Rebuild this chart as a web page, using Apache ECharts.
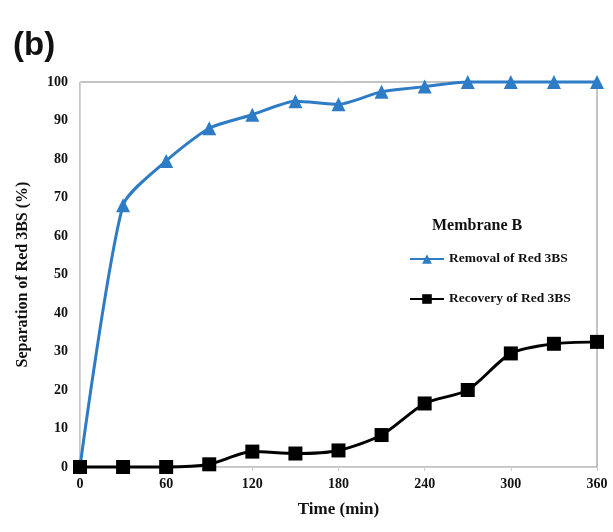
<!DOCTYPE html>
<html><head><meta charset="utf-8">
<script src="https://cdn.jsdelivr.net/npm/echarts@6/dist/echarts.min.js"></script>
<style>html,body{margin:0;padding:0;background:#fff}#c{width:613px;height:532px}</style>
</head><body><div id="c"></div>
<script>
const times = [0, 30, 60, 90, 120, 150, 180, 210, 240, 270, 300, 330, 360];
const removal = [0, 68, 79.5, 88, 91.5, 95, 94.2, 97.5, 98.8, 100, 100, 100, 100];
const recovery = [0, 0, 0, 0.7, 4, 3.5, 4.3, 8.3, 16.5, 20, 29.5, 32, 32.5];
const seriesNames = ['Removal of Red 3BS', 'Recovery of Red 3BS'];
const serif = '"Liberation Serif", "Times New Roman", serif';

const chart = echarts.init(document.getElementById('c'));
chart.setOption({
  animation: false,
  backgroundColor: '#fff',
  grid: { left: 80, right: 16, top: 82, bottom: 65, show: true, borderColor: '#8a8a8a', borderWidth: 1 },
  title: { text: '(b)', left: 8, top: 24, textStyle: { fontFamily: '"Liberation Sans", Arial, sans-serif', fontWeight: 'bold', fontSize: 33, color: '#111' } },
  graphic: [{ type: 'text', left: 432, top: 218, style: { text: 'Membrane B', fontFamily: serif, fontWeight: 'bold', fontSize: 16, fill: '#111' } }],
  legend: {
    orient: 'vertical', left: 404, top: 247, itemGap: 26, itemWidth: 34, itemHeight: 12,
    textStyle: { fontFamily: serif, fontWeight: 'bold', fontSize: 13.5, color: '#111' },
    data: seriesNames
  },
  xAxis: {
    type: 'value', min: 0, max: 360, interval: 60,
    name: 'Time (min)', nameLocation: 'middle', nameGap: 34,
    nameTextStyle: { fontFamily: serif, fontWeight: 'bold', fontSize: 17, color: '#111' },
    axisLine: { show: true, lineStyle: { color: '#cfcfcf' } },
    axisTick: { show: true, length: 4, lineStyle: { color: '#cfcfcf' } },
    axisLabel: { fontFamily: serif, fontWeight: 'bold', fontSize: 14, color: '#111', margin: 10 },
    splitLine: { show: false }
  },
  yAxis: {
    type: 'value', min: 0, max: 100, interval: 10,
    name: 'Separation of Red 3BS (%)', nameLocation: 'middle', nameGap: 49,
    nameTextStyle: { fontFamily: serif, fontWeight: 'bold', fontSize: 16, color: '#111' },
    axisLine: { show: true, lineStyle: { color: '#d5d5d5' } },
    axisTick: { show: false },
    axisLabel: { fontFamily: serif, fontWeight: 'bold', fontSize: 14, color: '#111', margin: 12 },
    splitLine: { show: false }
  },
  series: [
    {
      name: seriesNames[0], type: 'line', smooth: 0.22, clip: false, z: 3,
      data: times.map((t, i) => [t, removal[i]]),
      symbol: 'triangle', symbolSize: 14,
      lineStyle: { color: '#2E7BC6', width: 3 },
      itemStyle: { color: '#2E7BC6' }
    },
    {
      name: seriesNames[1], type: 'line', smooth: 0.25, clip: false, z: 4,
      data: times.map((t, i) => [t, recovery[i]]),
      symbol: 'rect', symbolSize: 14,
      lineStyle: { color: '#000', width: 3 },
      itemStyle: { color: '#000' }
    }
  ]
});
</script></body></html>
